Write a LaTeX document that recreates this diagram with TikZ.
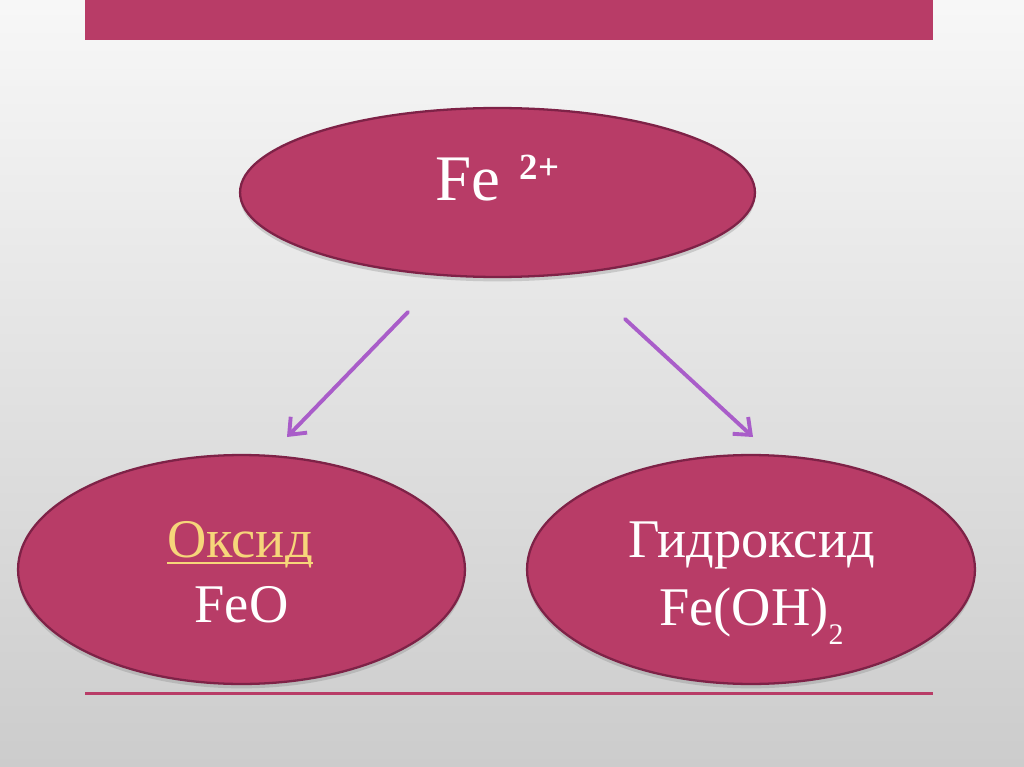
\documentclass[tikz,border=0pt]{standalone}
\usepackage{fontspec}
\setmainfont{Liberation Serif}
\usepackage{tikz}
\usetikzlibrary{arrows.meta,positioning,calc,shapes.geometric,shadows}
\definecolor{berry}{HTML}{B83C67}
\definecolor{berryedge}{HTML}{7E2247}
\definecolor{oxgold}{HTML}{F6D67A}
\definecolor{arrowviolet}{HTML}{A95DC9}

\begin{document}
\begin{tikzpicture}[x=0.02cm,y=-0.02cm,>={Straight Barb[length=8pt,width=13pt]},
  blob/.style={ellipse,draw=berryedge,line width=1.3pt,fill=berry,inner sep=0pt,
    drop shadow={shadow xshift=0pt,shadow yshift=-2.5pt,opacity=0.3}},
  word/.style={anchor=base,inner sep=0pt,text=white,font=\fontsize{31}{37}\selectfont},
  link/.style={->,line width=2.2pt,arrowviolet,line cap=round}]
  \useasboundingbox (0,0) rectangle (1024,767);
  \shade[top color=black!3,bottom color=black!20] (0,0) rectangle (1024,767);
  \fill[berry] (85,0) rectangle (933,40);
  \fill[berry] (85,691.5) rectangle (933,695);

  % ion and its two compounds
  \node[blob,minimum width=10.3cm,minimum height=3.38cm] (ion) at (497.5,192.5) {};
  \node[blob,minimum width=8.94cm,minimum height=4.58cm] (oxid) at (241.5,569.5) {};
  \node[blob,minimum width=8.96cm,minimum height=4.58cm] (hydr) at (751,569.5) {};

  \node[word,font=\fontsize{37}{44}\selectfont] (iontext) at (497.5,200)
    {Fe\hspace{11pt}\raisebox{11.4pt}{\fontsize{21}{25}\selectfont\bfseries 2+}};
  \node[word,text=oxgold] (oxname) at (240,557) {Оксид};
  \node[word] (oxformula) at (241.5,622) {FeO};
  \node[word] (hyname) at (751.5,557) {Гидроксид};
  \node[word] (hyformula) at (751.5,625)
    {Fe(OH)\raisebox{-11pt}{\fontsize{17}{20}\selectfont 2}};
  \draw[oxgold,line width=1.6pt] ($(oxname.base west)+(0,6)$) -- ($(oxname.base east)+(0,6)$);

  \coordinate (l1) at (408,312);
  \coordinate (l2) at (287,437);
  \coordinate (r1) at (625,319);
  \coordinate (r2) at (753,437);
  \draw[link] (l1) -- (l2);
  \draw[link] (r1) -- (r2);
\end{tikzpicture}
\end{document}
